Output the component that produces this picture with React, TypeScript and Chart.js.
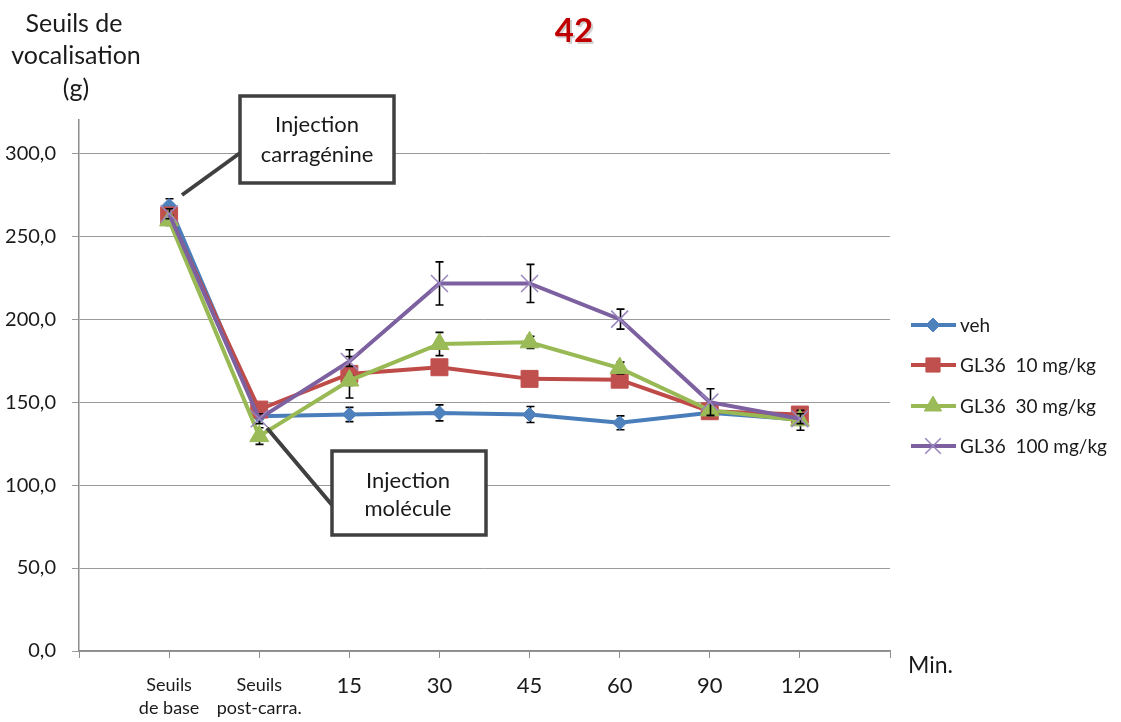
import React, { useEffect, useRef } from 'react';
import { Chart, registerables } from 'chart.js';

Chart.register(...registerables);

const FONT = 'Lato, "Open Sans", sans-serif';

// ---- data ----
const categoryLabels: (string | string[])[] = [
  ['Seuils', 'de base'],
  ['Seuils', 'post-carra.'],
  '15',
  '30',
  '45',
  '60',
  '90',
  '120',
];
const categoryPositions = [1, 2, 3, 4, 5, 6, 7, 8];
const seriesNames = ['veh', 'GL36  10 mg/kg', 'GL36  30 mg/kg', 'GL36  100 mg/kg'];

const vehValues = [268.5, 141.5, 142.5, 143.5, 142.5, 137.5, 143.5, 139.5];
const vehErrors = [4, 2, 4.3, 4.8, 4.8, 4.2, 3, 3];

const gl10Values = [262.5, 145.5, 167, 171, 164, 163.5, 144.5, 142.5];
const gl10Errors = [3, 3, 14.5, 4, 3, 4.2, 3, 3];

const gl30Values = [259.5, 129.5, 163, 185, 186, 170.5, 145, 139];
const gl30Errors = [3, 5, 3, 7, 3.6, 3.6, 3, 6];

const gl100Values = [263.5, 140, 174.5, 221.5, 221.5, 200, 150, 140];
const gl100Errors = [3, 3, 3, 13, 11.5, 6, 8, 3];

const chartTitle = '42';
const yAxisTitle = ['Seuils de', 'vocalisation', '(g)'];
const xAxisUnit = 'Min.';
const annotationCarra = ['Injection', 'carragénine'];
const annotationMolecule = ['Injection', 'molécule'];

const yMin = 0;
const yMax = 320;
const yStep = 50;

// ---- styles ----
const seriesStyles = [
  { line: '#4A7EBB', fill: '#4F81BD', point: 'rectRot', radius: 7, pointBorder: '#4F81BD', pbw: 1 },
  { line: '#BE4B48', fill: '#C0504D', point: 'rect', radius: 12, pointBorder: '#C0504D', pbw: 1 },
  { line: '#98B954', fill: '#9BBB59', point: 'triangle', radius: 11, pointBorder: '#9BBB59', pbw: 1 },
  { line: '#7D60A0', fill: '#8064A2', point: 'crossRot', radius: 12, pointBorder: '#9985BD', pbw: 1.5 },
];

function drawMarker(ctx: CanvasRenderingContext2D, style: string, x: number, y: number, r: number, fill: string, stroke: string, lw: number) {
  ctx.save();
  ctx.fillStyle = fill;
  ctx.strokeStyle = stroke;
  ctx.lineWidth = lw;
  ctx.beginPath();
  if (style === 'rectRot') {
    ctx.moveTo(x, y - r);
    ctx.lineTo(x + r, y);
    ctx.lineTo(x, y + r);
    ctx.lineTo(x - r, y);
    ctx.closePath();
    ctx.fill();
    ctx.stroke();
  } else if (style === 'rect') {
    const s = r * Math.SQRT1_2;
    ctx.rect(x - s, y - s, 2 * s, 2 * s);
    ctx.fill();
    ctx.stroke();
  } else if (style === 'triangle') {
    const h = r * Math.sqrt(3) / 2;
    ctx.moveTo(x, y - r);
    ctx.lineTo(x + h, y + r / 2);
    ctx.lineTo(x - h, y + r / 2);
    ctx.closePath();
    ctx.fill();
    ctx.stroke();
  } else {
    const d = r * Math.SQRT1_2;
    ctx.moveTo(x - d, y - d);
    ctx.lineTo(x + d, y + d);
    ctx.moveTo(x + d, y - d);
    ctx.lineTo(x - d, y + d);
    ctx.stroke();
  }
  ctx.restore();
}

// error bars drawn before each series' line and markers (as in the original)
const errorBarPlugin = {
  id: 'errorBars',
  beforeDatasetDraw(chart: any, args: any) {
    const ds = chart.data.datasets[args.index];
    const errs: number[] = ds.errors;
    if (!errs) return;
    const ctx: CanvasRenderingContext2D = chart.ctx;
    const ys = chart.scales.y;
    ctx.save();
    ctx.strokeStyle = '#000000';
    ctx.lineWidth = 1.6;
    args.meta.data.forEach((pt: any, i: number) => {
      const v = ds.data[i].y;
      const e = errs[i];
      const x = Math.round(pt.x) + 0.5;
      const t = ys.getPixelForValue(v + e);
      const b = ys.getPixelForValue(v - e);
      ctx.beginPath();
      ctx.moveTo(x, t);
      ctx.lineTo(x, b);
      ctx.moveTo(x - 4, t);
      ctx.lineTo(x + 4, t);
      ctx.moveTo(x - 4, b);
      ctx.lineTo(x + 4, b);
      ctx.stroke();
    });
    ctx.restore();
  },
};

function drawBox(ctx: CanvasRenderingContext2D, x1: number, y1: number, x2: number, y2: number, lines: string[], cx: number, ys: number[]) {
  ctx.save();
  ctx.fillStyle = '#ffffff';
  ctx.strokeStyle = '#404040';
  ctx.lineWidth = 3.5;
  ctx.beginPath();
  ctx.rect(x1, y1, x2 - x1, y2 - y1);
  ctx.fill();
  ctx.stroke();
  ctx.fillStyle = '#1a1a1a';
  ctx.font = `22px ${FONT}`;
  ctx.textAlign = 'center';
  ctx.textBaseline = 'middle';
  lines.forEach((l, i) => ctx.fillText(l, cx, ys[i]));
  ctx.restore();
}

const decorPlugin = {
  id: 'decor',
  afterDraw(chart: any) {
    const ctx: CanvasRenderingContext2D = chart.ctx;
    ctx.save();
    // connectors
    ctx.strokeStyle = '#404040';
    ctx.lineWidth = 4;
    ctx.beginPath();
    ctx.moveTo(182, 195);
    ctx.lineTo(240, 153);
    ctx.moveTo(267, 428);
    ctx.lineTo(332, 505);
    ctx.stroke();
    ctx.restore();

    drawBox(ctx, 240, 96, 394, 183, annotationCarra, 317, [125, 155]);
    drawBox(ctx, 332, 451, 486, 535, annotationMolecule, 408, [481, 509]);

    ctx.save();
    // title
    ctx.font = `bold 33px ${FONT}`;
    ctx.textAlign = 'center';
    ctx.textBaseline = 'middle';
    ctx.fillStyle = 'rgba(0,0,0,0.18)';
    ctx.fillText(chartTitle, 576, 33);
    ctx.fillStyle = '#C00000';
    ctx.fillText(chartTitle, 574, 31);

    // y axis title
    ctx.fillStyle = '#1a1a1a';
    ctx.font = `25px ${FONT}`;
    ctx.textBaseline = 'alphabetic';
    ctx.fillText(yAxisTitle[0], 74, 32);
    ctx.fillText(yAxisTitle[1], 76, 64);
    ctx.fillText(yAxisTitle[2], 76, 97);

    // Min.
    ctx.font = `23px ${FONT}`;
    ctx.textAlign = 'left';
    ctx.fillText(xAxisUnit, 908, 673);

    // legend
    const rows = [325, 365, 406, 446];
    const legendMarkerR = [7, 10, 10, 11];
    ctx.font = `19px ${FONT}`;
    ctx.textBaseline = 'middle';
    seriesNames.forEach((name, i) => {
      const st = seriesStyles[i];
      const y = rows[i];
      ctx.strokeStyle = st.line;
      ctx.lineWidth = 4;
      ctx.beginPath();
      ctx.moveTo(911, y);
      ctx.lineTo(956, y);
      ctx.stroke();
      drawMarker(ctx, st.point, 933, y, legendMarkerR[i], st.fill, st.pointBorder, st.pbw);
      ctx.fillStyle = '#1a1a1a';
      ctx.fillText(name, 960, y + 1);
    });
    ctx.restore();
  },
};

export default function App() {
  const canvasRef = useRef<HTMLCanvasElement | null>(null);

  useEffect(() => {
    document.body.style.margin = '0';
    document.body.style.background = '#ffffff';
    const canvas = canvasRef.current;
    if (!canvas) return;
    const seriesValues = [vehValues, gl10Values, gl30Values, gl100Values];
    const seriesErrors = [vehErrors, gl10Errors, gl30Errors, gl100Errors];
    const datasets = seriesNames.map((name, i) => {
      const st = seriesStyles[i];
      return {
        label: name,
        data: categoryPositions.map((x, j) => ({ x, y: seriesValues[i][j] })),
        errors: seriesErrors[i],
        borderColor: st.line,
        backgroundColor: st.fill,
        borderWidth: 4,
        pointStyle: st.point,
        pointRadius: st.radius,
        pointHoverRadius: st.radius,
        pointBackgroundColor: st.fill,
        pointBorderColor: st.pointBorder,
        pointBorderWidth: st.pbw,
        tension: 0,
        order: 4 - i,
      } as any;
    });

    const chart = new Chart(canvas, {
      type: 'line',
      data: { datasets },
      options: {
        animation: false,
        responsive: true,
        maintainAspectRatio: false,
        devicePixelRatio: 1,
        layout: { padding: { top: 120, right: 231, left: 0, bottom: 0 } },
        plugins: {
          legend: { display: false },
          tooltip: { enabled: false },
          title: { display: false },
        },
        scales: {
          x: {
            type: 'linear',
            min: 0,
            max: 9,
            afterFit: (scale: any) => {
              scale.height = 71;
            },
            ticks: {
              stepSize: 1,
              autoSkip: false,
              maxRotation: 0,
              minRotation: 0,
              padding: 15,
              color: '#1a1a1a',
              callback: (v: any) => {
                const idx = categoryPositions.indexOf(Number(v));
                return idx >= 0 ? categoryLabels[idx] : '';
              },
              font: (ctx: any) => {
                const v = ctx.tick ? ctx.tick.value : 3;
                const idx = categoryPositions.indexOf(v);
                const isText = idx >= 0 && Array.isArray(categoryLabels[idx]);
                return isText
                  ? { family: FONT, size: 18, lineHeight: 1.3 }
                  : { family: FONT, size: 22, lineHeight: 1.2 };
              },
            },
            grid: {
              drawOnChartArea: false,
              drawTicks: true,
              tickLength: 7,
              tickColor: '#8c8c8c',
              color: '#8c8c8c',
            },
            border: { color: '#8c8c8c', width: 1.5 },
          },
          y: {
            min: yMin,
            max: yMax,
            afterFit: (scale: any) => {
              scale.width = 79;
            },
            ticks: {
              stepSize: yStep,
              includeBounds: false,
              padding: 16,
              color: '#1a1a1a',
              font: { family: FONT, size: 20 },
              callback: (v: any) => Number(v).toFixed(1).replace('.', ','),
            },
            grid: {
              color: '#9a9a9a',
              lineWidth: 1,
              tickLength: 7,
              tickColor: '#9a9a9a',
            },
            border: { color: '#8c8c8c', width: 1.5 },
          },
        },
      } as any,
      plugins: [errorBarPlugin, decorPlugin],
    });
    return () => chart.destroy();
  }, []);

  return (
    <div style={{ position: 'absolute', left: 0, top: 0, width: 1121, height: 722, background: '#ffffff' }}>
      <canvas ref={canvasRef} />
    </div>
  );
}
